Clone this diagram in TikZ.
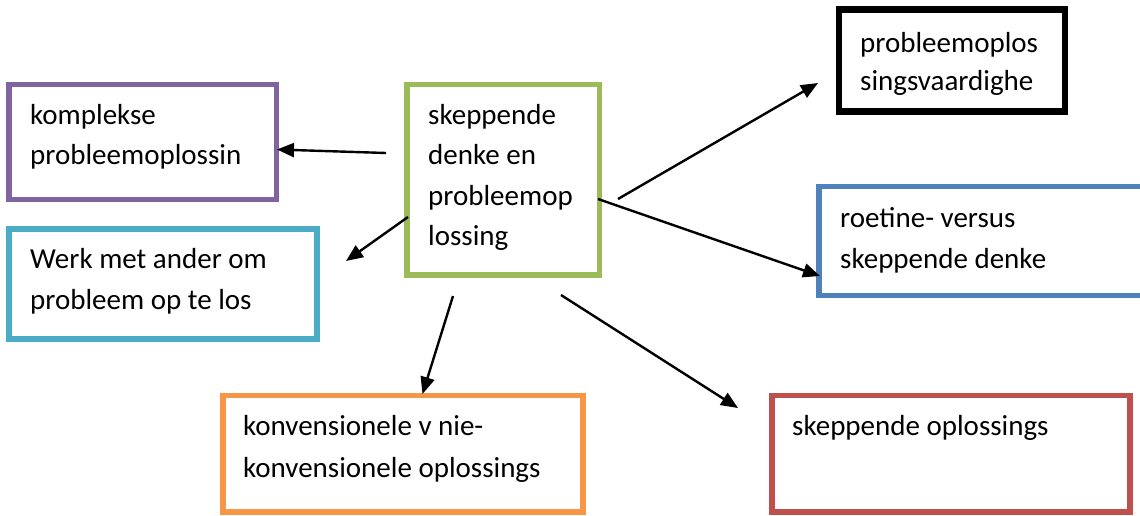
\documentclass[tikz,border=0pt]{standalone}
\usepackage{fontspec}
\setmainfont{Carlito}
\usetikzlibrary{arrows.meta}

\definecolor{cpurple}{HTML}{8064A2}
\definecolor{cgreen}{HTML}{9BBB59}
\definecolor{cblue}{HTML}{4F81BD}
\definecolor{ccyan}{HTML}{4BACC6}
\definecolor{corange}{HTML}{F79646}
\definecolor{cred}{HTML}{C0504D}

\tikzset{
  box/.style={draw=#1, line width=5.5pt, rectangle, inner sep=0pt, fill=none},
  boxtext/.style={anchor=north west, inner sep=0pt, align=left,
    font=\fontsize{29}{#1}\selectfont},
  boxtext/.default=40.5,
  link/.style={line width=2.4pt, -{Triangle[length=17pt,width=14pt]}}
}
\newcommand{\firstline}{\rule{0pt}{24pt}}

\begin{document}
\begin{tikzpicture}[x=1pt, y=-1pt]
\useasboundingbox (0,0) rectangle (1140,515);

% frames
\node[box=cpurple, minimum width=267.5pt, minimum height=115pt]   (kompl)  at (142.75,142)   {};
\node[box=cgreen,  minimum width=192.5pt, minimum height=190.5pt] (centre) at (503.25,179.75) {};
\node[box=black,   line width=6.5pt, minimum width=226pt, minimum height=102pt] (vaard) at (952,60.5) {};
\node[box=cblue,   minimum width=331pt,   minimum height=109pt]   (roet)   at (984.5,241)    {};
\node[box=ccyan,   minimum width=308pt,   minimum height=110pt]   (werk)   at (163,284)      {};
\node[box=corange, minimum width=360pt,   minimum height=116.5pt] (konv)   at (403,453.75)   {};
\node[box=cred,    minimum width=358pt,   minimum height=116.5pt] (skop)   at (951,453.75)   {};

% texts
\node[boxtext] (tkompl)  at (30,100)  {\firstline komplekse\\probleemoplossin};
\node[boxtext] (tcentre) at (428,100) {\firstline skeppende\\denke en\\probleemop\\lossing};
\node[boxtext=38] (tvaard) at (860,28) {\firstline probleemoplos\\singsvaardighe};
\node[boxtext=41] (troet) at (840,203) {\firstline roetine- versus\\skeppende denke};
\node[boxtext=41] (twerk) at (30,244)  {\firstline Werk met ander om\\probleem op te los};
\node[boxtext=42] (tkonv) at (243,411) {\firstline konvensionele v nie-\\konvensionele oplossings};
\node[boxtext] (tskop)   at (792,411) {\firstline skeppende oplossings};

% connector ends
\coordinate (s1) at (386,153);  \coordinate (e1) at (277,149.5);
\coordinate (s2) at (408,217);  \coordinate (e2) at (346,261);
\coordinate (s3) at (453,296);  \coordinate (e3) at (422.5,394);
\coordinate (s4) at (561,295);  \coordinate (e4) at (738,408);
\coordinate (s5) at (598,199);  \coordinate (e5) at (820,276);
\coordinate (s6) at (618,199);  \coordinate (e6) at (818,83);

% connectors
\draw[link] (s1) -- (e1);
\draw[link] (s2) -- (e2);
\draw[link] (s3) -- (e3);
\draw[link] (s4) -- (e4);
\draw[link] (s5) -- (e5);
\draw[link] (s6) -- (e6);
\end{tikzpicture}
\end{document}
